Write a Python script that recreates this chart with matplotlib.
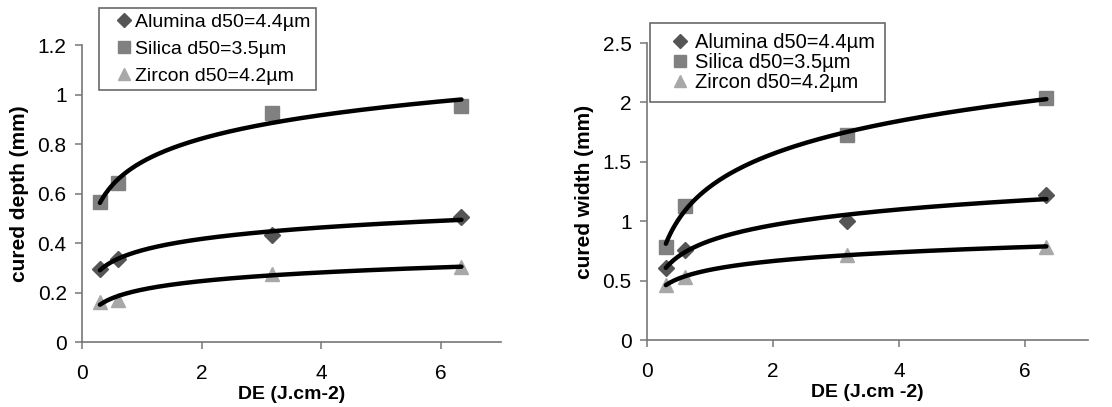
import matplotlib
matplotlib.use('Agg')
import matplotlib.pyplot as plt
import numpy as np

plt.rcParams['font.family'] = ['Liberation Sans', 'DejaVu Sans']

# Energy dose (J/cm2), same for all series
de = [0.3, 0.6, 3.17, 6.34]

# Cured depth (mm)
depth_alumina = [0.293, 0.337, 0.431, 0.506]
depth_silica = [0.564, 0.643, 0.924, 0.953]
depth_zircon = [0.162, 0.169, 0.276, 0.303]

# Cured width (mm)
width_alumina = [0.604, 0.758, 1.003, 1.222]
width_silica = [0.787, 1.124, 1.728, 2.037]
width_zircon = [0.463, 0.534, 0.716, 0.787]

labels = ['Alumina d50=4.4\u00b5m', 'Silica d50=3.5\u00b5m', 'Zircon d50=4.2\u00b5m']
markers = ['D', 's', '^']
msizes = [8.5, 10.5, 10.5]
colors = ['#555555', '#808080', '#a8a8a8']

fig = plt.figure(figsize=(11.12, 4.07), dpi=100)
ax1 = fig.add_axes([0.0737, 0.1597, 0.3768, 0.7297])
ax2 = fig.add_axes([0.5818, 0.1646, 0.3966, 0.7297])


def draw(ax, series, ylim, yticks, ytlabels, ylabel, xlabel, legpos, legkw):
    x = np.array(de)
    handles = []
    for ys, lab, m, ms, c in zip(series, labels, markers, msizes, colors):
        h, = ax.plot(x, ys, linestyle='none', marker=m, markersize=ms,
                     color=c, label=lab, zorder=2)
        handles.append(h)
    # logarithmic trend lines, fitted like the spreadsheet does
    xs = np.linspace(x[0], x[-1], 200)
    for ys in series:
        b, a = np.polyfit(np.log(x), ys, 1)
        ax.plot(xs, a + b*np.log(xs), color='black', lw=3.2, zorder=3,
                solid_capstyle='round')
    ax.set_xlim(0, 7)
    ax.set_ylim(*ylim)
    ax.set_xticks([0, 2, 4, 6])
    ax.set_xticklabels(['0', '2', '4', '6'])
    ax.set_yticks(yticks)
    ax.set_yticklabels(ytlabels)
    for s in ['top', 'right']:
        ax.spines[s].set_visible(False)
    for s in ['left', 'bottom']:
        ax.spines[s].set_color('#777777')
        ax.spines[s].set_linewidth(1.2)
    ax.tick_params(axis='both', direction='out', length=5, width=1.1,
                   color='#777777', labelsize=15, pad=6)
    ax.tick_params(axis='x', pad=11)
    ax.set_xlabel(xlabel, fontsize=14, fontweight='bold', labelpad=2)
    ax.set_ylabel(ylabel, fontsize=15, fontweight='bold', labelpad=6)
    leg = fig.legend(handles=handles, loc='upper left', bbox_to_anchor=legpos,
                     bbox_transform=fig.transFigure, frameon=True,
                     fancybox=False, edgecolor='#444444', borderaxespad=0,
                     numpoints=1, markerscale=0.8, **legkw)
    leg.get_frame().set_linewidth(1.2)


draw(ax1, [depth_alumina, depth_silica, depth_zircon], (0, 1.2),
     [0, 0.2, 0.4, 0.6, 0.8, 1.0, 1.2],
     ['0', '0.2', '0.4', '0.6', '0.8', '1', '1.2'],
     'cured depth (mm)', 'DE (J.cm-2)', (99/1112, 1 - 8/407),
     dict(fontsize=14, handlelength=2.0, handletextpad=-0.42,
          labelspacing=0.48, borderpad=0.27))
draw(ax2, [width_alumina, width_silica, width_zircon], (0, 2.5),
     [0, 0.5, 1.0, 1.5, 2.0, 2.5],
     ['0', '0.5', '1', '1.5', '2', '2.5'],
     'cured width (mm)', 'DE (J.cm -2)', (650/1112, 1 - 23/407),
     dict(fontsize=14.5, handlelength=2.0, handletextpad=-0.26,
          labelspacing=0.05, borderpad=0.49))

fig.savefig('out.png', dpi=100)
